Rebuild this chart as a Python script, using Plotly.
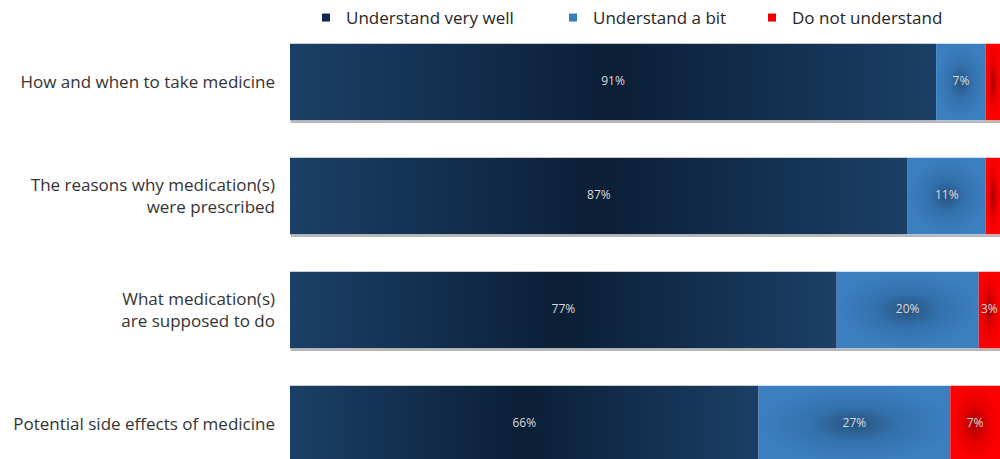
import plotly.graph_objects as go

# Survey results: how well respondents understand their medication
categories = [
    "How and when to take medicine",
    "The reasons why medication(s)<br>were prescribed",
    "What medication(s)<br>are supposed to do",
    "Potential side effects of medicine",
]
series_names = ["Understand very well", "Understand a bit", "Do not understand"]
very_well = [91, 87, 77, 66]
a_bit = [7, 11, 20, 27]
not_understand = [2, 2, 3, 7]
# which segments carry a printed percentage
show_label = [
    [True, True, True, True],
    [True, True, True, True],
    [False, False, True, True],
]

series_values = [very_well, a_bit, not_understand]

# visual styling per series
legend_colors = ["#10294a", "#3a7bbd", "#ee0000"]
gradients = [
    dict(type="horizontal", colorscale=[[0, "#1b3f66"], [0.5, "#0b1f36"], [1, "#1b3f66"]]),
    dict(type="radial", colorscale=[[0, "#27547f"], [0.45, "#3371ad"], [1, "#3b7fc1"]]),
    dict(type="radial", colorscale=[[0, "#a80000"], [0.5, "#e60000"], [1, "#ff0000"]]),
]
half_height = 0.335
shadow_offset = 0.014
font_family = "Open Sans"

fig = go.Figure()

# soft drop shadow beneath each stacked bar
for ci in range(len(categories)):
    total = sum(values[ci] for values in series_values)
    ys = ci + half_height + shadow_offset
    fig.add_trace(go.Scatter(
        x=[0.1, total], y=[ys, ys], mode="lines",
        line=dict(color="rgba(0,0,0,0.28)", width=2.5),
        showlegend=False, hoverinfo="skip",
    ))

label_x, label_y, label_text = [], [], []
for ci in range(len(categories)):
    base = 0
    for si, values in enumerate(series_values):
        v = values[ci]
        x0, x1 = base, base + v
        y0, y1 = ci - half_height, ci + half_height
        fig.add_trace(go.Scatter(
            x=[x0, x1, x1, x0, x0],
            y=[y0, y0, y1, y1, y0],
            mode="lines",
            fill="toself",
            fillcolor=legend_colors[si],
            fillgradient=gradients[si],
            line=dict(width=0),
            showlegend=False,
            hoverinfo="skip",
        ))
        if show_label[si][ci]:
            label_x.append(base + v / 2)
            label_y.append(ci)
            label_text.append(f"{v}%")
        base += v

fig.add_trace(go.Scatter(
    x=label_x, y=label_y, text=label_text, mode="text",
    textfont=dict(color="#dcdcdc", size=12, family=font_family),
    showlegend=False, hoverinfo="skip", cliponaxis=False,
))

# one legend per series so each entry sits at its own position
legend_ids = ["legend", "legend2", "legend3"]
legend_x = [306, 553, 752]
for si, name in enumerate(series_names):
    fig.add_trace(go.Scatter(
        x=[None], y=[None], mode="markers", name=name,
        marker=dict(symbol="square", size=8, color=legend_colors[si]),
        legend=legend_ids[si], showlegend=True,
    ))

legend_common = dict(
    orientation="h", xref="container", yref="container",
    y=1 - 18 / 459, yanchor="middle", xanchor="left",
    font=dict(family=font_family, size=17, color="#262626"),
    bgcolor="rgba(0,0,0,0)", borderwidth=0,
)
layout_legends = {}
for lid, lx in zip(legend_ids, legend_x):
    layout_legends[lid] = dict(legend_common, x=lx / 1000)

fig.update_layout(
    width=1000, height=459,
    margin=dict(l=290, r=0, t=0, b=0, autoexpand=False),
    paper_bgcolor="white", plot_bgcolor="white",
    font=dict(family=font_family, size=17, color="#333333"),
    xaxis=dict(range=[0, 100], visible=False, fixedrange=True),
    yaxis=dict(
        range=[3.307, -0.719],
        tickmode="array",
        tickvals=list(range(len(categories))),
        ticktext=categories,
        showgrid=False, zeroline=False, showline=False,
        ticks="", ticklabelstandoff=14,
        tickfont=dict(family=font_family, size=17, color="#333333"),
        fixedrange=True,
    ),
    **layout_legends,
)

fig.write_html("out.html")
